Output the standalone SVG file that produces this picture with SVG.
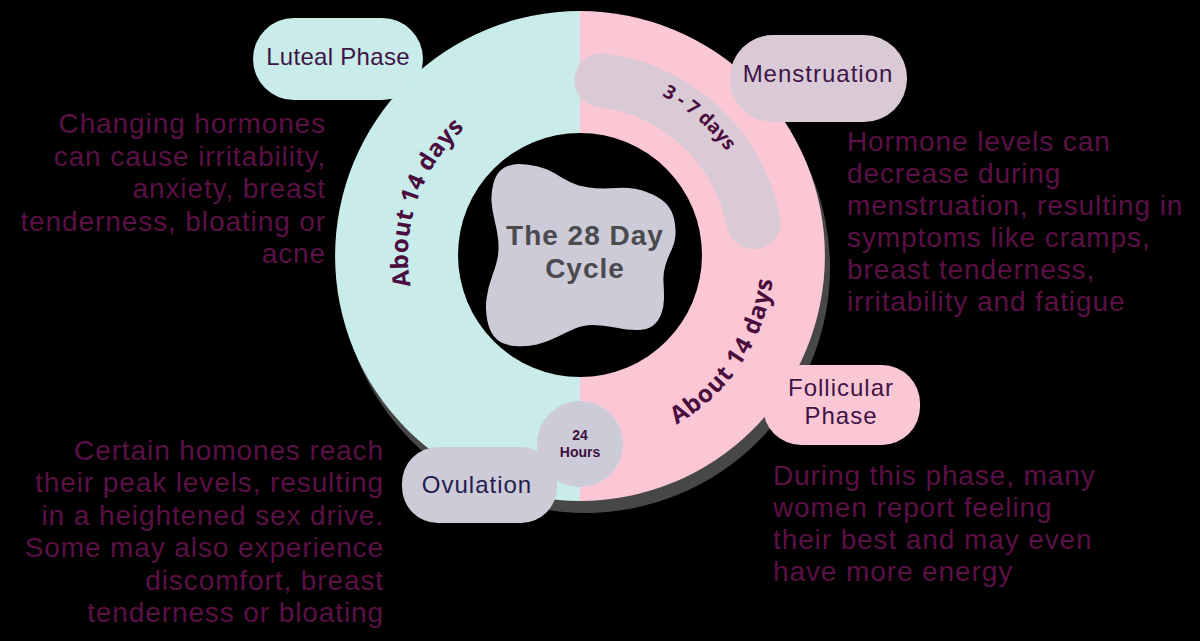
<svg xmlns="http://www.w3.org/2000/svg" width="1200" height="641" viewBox="0 0 1200 641">
<defs>
<style>
.note{font-family:"Liberation Sans",Arial,sans-serif;font-size:28px;letter-spacing:0.9px;fill:#5b1045}
.lbl{font-family:"Liberation Sans",Arial,sans-serif;font-size:24px;letter-spacing:1px;fill:#3e1446;text-anchor:middle}
.arc{font-family:"Open Sans","Liberation Sans",sans-serif;font-weight:700;fill:#4a0e3e}
.cyan{fill:#c9eceb}
.pink{fill:#fcc7d5}
.mauve{fill:#d9cad6}
.grey{fill:#cecbd9}
</style>
<path id="pLeft" d="M 510.0 413.1 A 172 172 0 0 1 621.6 89.1"/>
<path id="pRight" d="M 487.4 426.5 A 194 194 0 0 0 700.8 104.2"/>
<path id="pBand" d="M 454.4 127.1 A 180 180 0 0 1 726.1 361.2"/>
</defs>
<rect x="0" y="0" width="1200" height="641" fill="#000"/>
<g id="ring">
<circle cx="585" cy="268" r="245" fill="#474747"/>
<path class="cyan" d="M 580 11 A 245 245 0 0 0 580 501 Z"/>
<path class="pink" d="M 580 11 A 245 245 0 0 1 580 501 Z"/>
<circle cx="580" cy="255" r="122" fill="#000"/>
</g>
<g id="menstruation-band">
<path d="M 601.6 80.3 A 177 177 0 0 1 753.7 222.2" fill="none" stroke="#d9cad6" stroke-width="54" stroke-linecap="round"/>
<text class="arc" font-size="19"><textPath href="#pBand" startOffset="50%" text-anchor="middle">3 - 7 days</textPath></text>
</g>
<g id="luteal-duration">
<text class="arc" font-size="24" letter-spacing="0.5"><textPath href="#pLeft" startOffset="50%" text-anchor="middle">About 14 days</textPath></text>
</g>
<g id="follicular-duration">
<text class="arc" font-size="24" letter-spacing="1"><textPath href="#pRight" startOffset="50%" text-anchor="middle">About 14 days</textPath></text>
</g>
<g id="center">
<path class="grey" d="M 491.5 201.5 Q 491 193 493.5 183 Q 496 173 503 168.5 Q 510 164 519 164 Q 528 164 538 166.5 Q 548 169 555 173.5 Q 562 178 570 182 Q 578 186 589 187.5 Q 600 189 616.5 188 Q 633 187 646.5 192 Q 660 197 666 203.5 Q 672 210 674 218.5 Q 676 227 675.5 235 Q 675 243 671.5 250 Q 668 257 665.5 265 Q 663 273 663.5 281.5 Q 664 290 664 298.5 Q 664 307 661 314.5 Q 658 322 652.5 326 Q 647 330 637 330 Q 627 330 615 327.5 Q 603 325 593 325 Q 583 325 575 328.5 Q 567 332 557 337 Q 547 342 537 344.5 Q 527 347 515 346 Q 503 345 496.5 339 Q 490 333 487.5 321.5 Q 485 310 486.5 298.5 Q 488 287 492.5 275 Q 497 263 498 255 Q 499 247 498 238.5 Q 497 230 494.5 220 Q 492 210 491.5 201.5 Z"/>
<text font-family="Liberation Sans, Arial, sans-serif" font-weight="700" font-size="28" letter-spacing="1" fill="#4a4a4f" text-anchor="middle"><tspan x="585" y="245">The 28 Day</tspan><tspan x="585" y="278">Cycle</tspan></text>
</g>
<g id="luteal-phase">
<rect class="cyan" x="253" y="18" width="170" height="82" rx="41"/>
<text class="lbl" x="338" y="65" letter-spacing="0.3" style="letter-spacing:0.3px">Luteal Phase</text>
</g>
<g id="menstruation">
<rect class="mauve" x="730" y="35" width="177" height="87" rx="43"/>
<text class="lbl" x="818" y="82">Menstruation</text>
</g>
<g id="follicular-phase">
<rect class="pink" x="763" y="365" width="157" height="80" rx="38"/>
<text class="lbl"><tspan x="841" y="396">Follicular</tspan><tspan x="841" y="424">Phase</tspan></text>
</g>
<g id="ovulation">
<rect class="grey" x="402" y="447" width="155" height="76" rx="36"/>
<circle class="grey" cx="580" cy="444" r="43"/>
<text class="lbl" x="477" y="493" style="fill:#241c4e">Ovulation</text>
<text font-family="Liberation Sans, Arial, sans-serif" font-weight="700" font-size="14" fill="#3e1040" text-anchor="middle"><tspan x="580" y="440">24</tspan><tspan x="580" y="457">Hours</tspan></text>
</g>
<g id="luteal-note">
<text class="note" text-anchor="end"><tspan x="326" y="133">Changing hormones</tspan><tspan x="326" y="165.5">can cause irritability,</tspan><tspan x="326" y="198">anxiety, breast</tspan><tspan x="326" y="230.5">tenderness, bloating or</tspan><tspan x="326" y="263">acne</tspan></text>
</g>
<g id="menstruation-note">
<text class="note"><tspan x="847" y="151">Hormone levels can</tspan><tspan x="847" y="183">decrease during</tspan><tspan x="847" y="215">menstruation, resulting in</tspan><tspan x="847" y="247">symptoms like cramps,</tspan><tspan x="847" y="279">breast tenderness,</tspan><tspan x="847" y="311">irritability and fatigue</tspan></text>
</g>
<g id="ovulation-note">
<text class="note" text-anchor="end"><tspan x="384" y="460">Certain homones reach</tspan><tspan x="384" y="492">their peak levels, resulting</tspan><tspan x="384" y="524.5">in a heightened sex drive.</tspan><tspan x="384" y="557">Some may also experience</tspan><tspan x="384" y="589.5">discomfort, breast</tspan><tspan x="384" y="622">tenderness or bloating</tspan></text>
</g>
<g id="follicular-note">
<text class="note"><tspan x="773" y="485">During this phase, many</tspan><tspan x="773" y="517">women report feeling</tspan><tspan x="773" y="549">their best and may even</tspan><tspan x="773" y="581">have more energy</tspan></text>
</g>
<g id="connectors"/>
</svg>
